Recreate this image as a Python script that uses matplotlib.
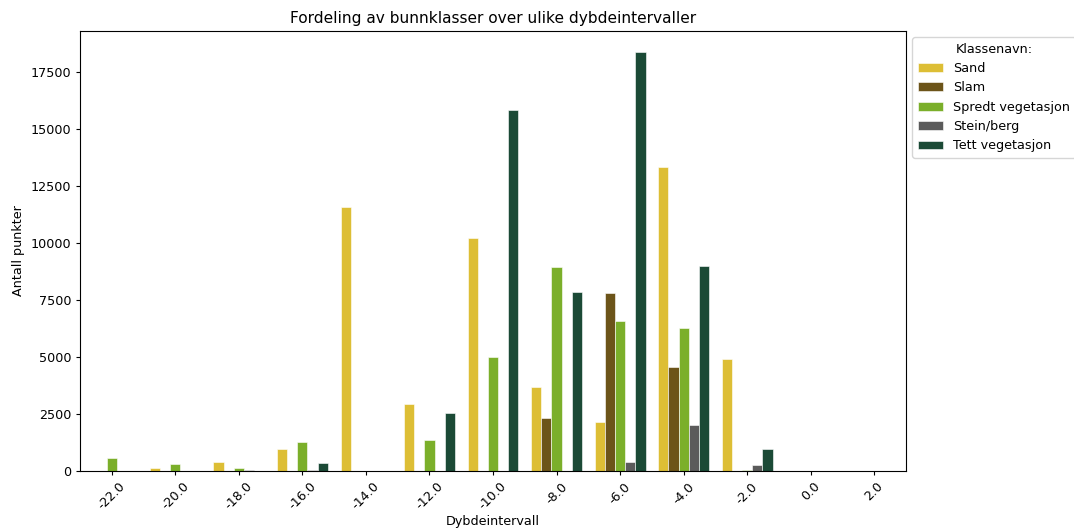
import numpy as np
import matplotlib
matplotlib.use("Agg")
import matplotlib.pyplot as plt

plt.rcParams["font.size"] = 9.2
plt.rcParams["xtick.major.size"] = 3.2
plt.rcParams["ytick.major.size"] = 3.2
plt.rcParams["xtick.major.pad"] = 3.2
plt.rcParams["ytick.major.pad"] = 3.2

# Depth intervals (category labels on the x axis)
depths = [-22.0, -20.0, -18.0, -16.0, -14.0, -12.0, -10.0, -8.0, -6.0, -4.0, -2.0, 0.0, 2.0]

# Number of points per bottom class in each depth interval
sand = [0, 130, 380, 960, 11600, 2930, 10240, 3700, 2150, 13340, 4900, 0, 0]
slam = [0, 0, 0, 0, 0, 0, 0, 2330, 7800, 4580, 0, 0, 0]
spredt = [570, 300, 130, 1290, 0, 1380, 4990, 8970, 6580, 6255, 30, 0, 0]
stein = [0, 0, 40, 40, 0, 0, 0, 0, 400, 2030, 260, 0, 0]
tett = [0, 0, 0, 340, 0, 2550, 15850, 7850, 18380, 9010, 980, 0, 0]

class_names = ["Sand", "Slam", "Spredt vegetasjon", "Stein/berg", "Tett vegetasjon"]
class_values = [sand, slam, spredt, stein, tett]
class_colors = ["#DDBE35", "#6C5419", "#7BAF2A", "#5B5B5B", "#1B4A36"]

fig = plt.figure(figsize=(10.74, 5.30), dpi=100)
ax = fig.add_axes([0.0745, 0.1113, 0.7691, 0.8302])

x = np.arange(len(depths))
n = len(class_names)
group_width = 0.8
bar_w = group_width / n
for i, (name, vals, col) in enumerate(zip(class_names, class_values, class_colors)):
    offset = (i - (n - 1) / 2) * bar_w
    ax.bar(x + offset, vals, width=bar_w, color=col, label=name,
           edgecolor="white", linewidth=0.4)

ax.set_xlim(-0.5, len(depths) - 0.5)
ax.set_xticks(x)
ax.set_xticklabels([f"{d:.1f}" for d in depths], rotation=45)
ax.set_xlabel("Dybdeintervall", labelpad=2)
ax.set_ylabel("Antall punkter")
ax.set_title("Fordeling av bunnklasser over ulike dybdeintervaller", pad=5.5)

ax.legend(title="Klassenavn:", loc="upper left", bbox_to_anchor=(1.0, 1.0))

fig.savefig("out.png", dpi=100)
